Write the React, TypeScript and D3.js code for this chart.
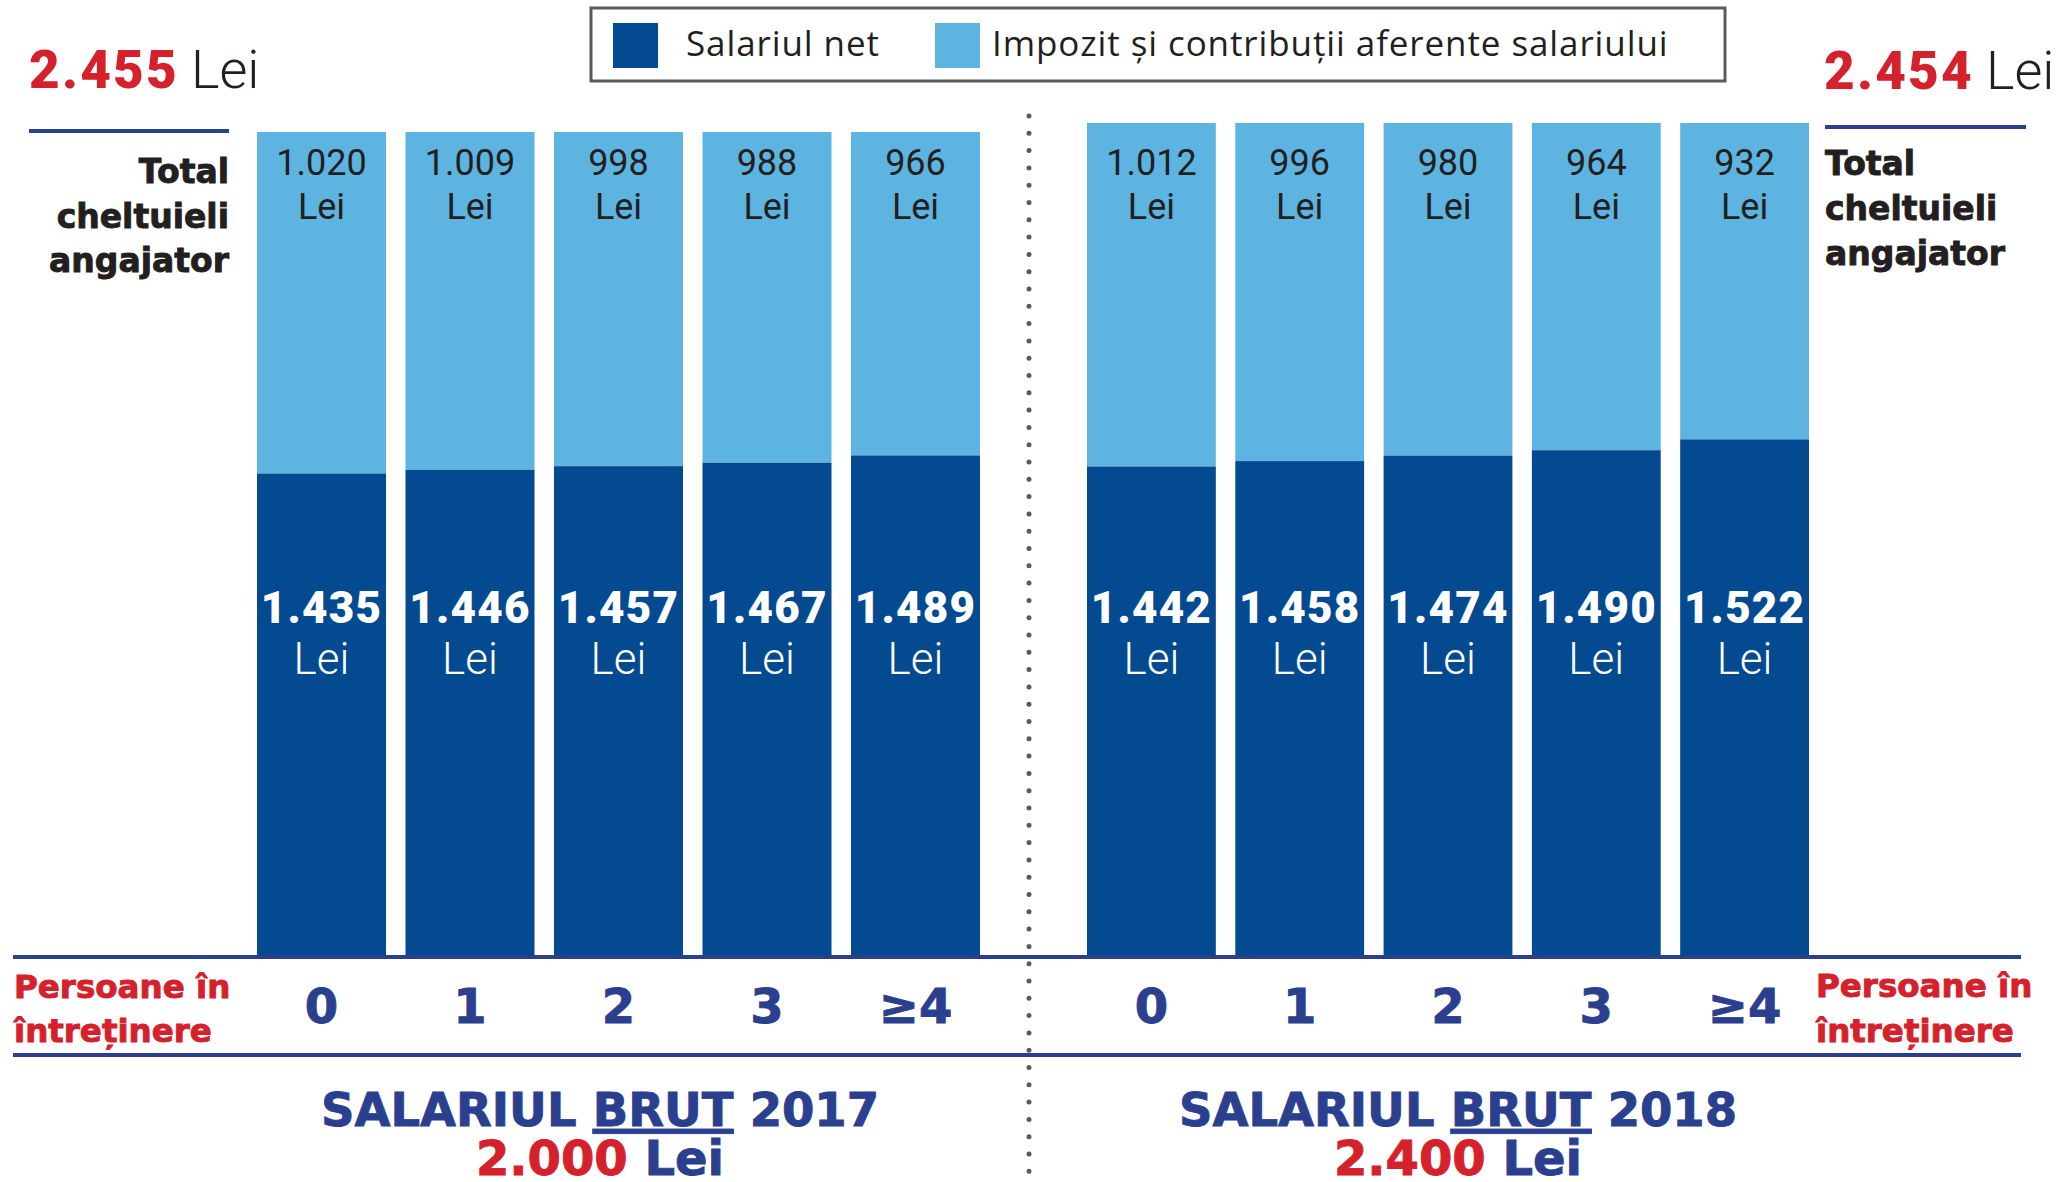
import React from "react";
import * as d3 from "d3";

const categories = ["0", "1", "2", "3", "≥4"];
const net2017 = [1435, 1446, 1457, 1467, 1489];
const tax2017 = [1020, 1009, 998, 988, 966];
const net2018 = [1442, 1458, 1474, 1490, 1522];
const tax2018 = [1012, 996, 980, 964, 932];
const totals = [2455, 2454];
const gross = ["2.000", "2.400"];
const years = ["2017", "2018"];

const DARK = "#034A91";
const LIGHT = "#5EB4E0";
const RED = "#D4212C";
const NAVY = "#2B3F8F";
const INK = "#231F20";
const SANS = "Roboto, 'Noto Sans', sans-serif";
const LEG = "'Open Sans', Roboto, sans-serif";
const HEAVY = "'DejaVu Sans', 'Noto Sans', sans-serif";

const fmt = (v: number) => d3.format(",")(v).replace(/,/g, ".");

type Panel = {
  net: number[];
  tax: number[];
  x: d3.ScaleBand<string>;
  y: d3.ScaleLinear<number, number>;
  center: number;
  year: string;
  gross: string;
};

export default function App() {
  const W = 2064;
  const H = 1182;
  const baseY = 957;

  const panels: Panel[] = [
    {
      net: net2017,
      tax: tax2017,
      x: d3.scaleBand<string>().domain(categories).range([257, 980]).paddingInner(0.1313).paddingOuter(0),
      y: d3.scaleLinear().domain([0, totals[0]]).range([954, 132]),
      center: 600,
      year: years[0],
      gross: gross[0],
    },
    {
      net: net2018,
      tax: tax2018,
      x: d3.scaleBand<string>().domain(categories).range([1087, 1809]).paddingInner(0.1313).paddingOuter(0),
      y: d3.scaleLinear().domain([0, totals[1]]).range([956, 123]),
      center: 1458,
      year: years[1],
      gross: gross[1],
    },
  ];

  const heavyStroke = (c: string) => ({ stroke: c, strokeWidth: 0.9, paintOrder: "stroke" as any });

  return (
    <svg
      width={W}
      height={H}
      viewBox={`0 0 ${W} ${H}`}
      style={{ position: "absolute", left: 0, top: 0, display: "block", background: "#fff" }}
    >
      <rect x={0} y={0} width={W} height={H} fill="#fff" />

      {/* Legend */}
      <rect x={591} y={8} width={1134} height={73} fill="#fff" stroke="#5a5a5a" strokeWidth={3} />
      <rect x={613} y={23} width={45} height={45} fill={DARK} />
      <text x={686} y={56} fontFamily={LEG} fontSize={35} letterSpacing={0.9} fill={INK}>Salariul net</text>
      <rect x={935} y={23} width={45} height={45} fill={LIGHT} />
      <text x={992} y={56} fontFamily={LEG} fontSize={35} letterSpacing={0.9} fill={INK}>Impozit și contribuții aferente salariului</text>

      {/* Totals top-left / top-right */}
      <text x={29} y={88} fontFamily={SANS} fontSize={53} fill={RED}>
        <tspan fontWeight={900} letterSpacing={2.2}>{fmt(totals[0])}</tspan>
        <tspan dx={12} fontWeight={300} fontSize={54} fill={INK}>Lei</tspan>
      </text>
      <text x={1824} y={89} fontFamily={SANS} fontSize={53} fill={RED}>
        <tspan fontWeight={900} letterSpacing={2.2}>{fmt(totals[1])}</tspan>
        <tspan dx={12} fontWeight={300} fontSize={54} fill={INK}>Lei</tspan>
      </text>
      <line x1={29} x2={229} y1={131} y2={131} stroke={NAVY} strokeWidth={4} />
      <line x1={1825} x2={2026} y1={127} y2={127} stroke={NAVY} strokeWidth={4} />

      {/* Total cheltuieli angajator */}
      {["Total", "cheltuieli", "angajator"].map((t, i) => (
        <text key={"l" + i} x={229} y={183 + i * 44.5} textAnchor="end" fontFamily={HEAVY} fontWeight={700} fontSize={33} fill={INK} {...heavyStroke(INK)}>
          {t}
        </text>
      ))}
      {["Total", "cheltuieli", "angajator"].map((t, i) => (
        <text key={"r" + i} x={1825} y={175 + i * 45} textAnchor="start" fontFamily={HEAVY} fontWeight={700} fontSize={33} fill={INK} {...heavyStroke(INK)}>
          {t}
        </text>
      ))}

      {/* Bars */}
      {panels.map((p, pi) => (
        <g key={"p" + pi}>
          {categories.map((c, i) => {
            const x0 = p.x(c) as number;
            const bw = p.x.bandwidth();
            const cx = x0 + bw / 2;
            const yNet = p.y(p.net[i]);
            const yTot = p.y(p.net[i] + p.tax[i]);
            const y0 = p.y(0);
            return (
              <g key={c}>
                <rect x={x0} y={yTot} width={bw} height={yNet - yTot} fill={LIGHT} />
                <rect x={x0} y={yNet} width={bw} height={Math.max(y0, baseY) - yNet} fill={DARK} />
                <text x={cx} y={175} textAnchor="middle" fontFamily={SANS} fontSize={36} fill={INK}>
                  {fmt(p.tax[i])}
                </text>
                <text x={cx} y={219} textAnchor="middle" fontFamily={SANS} fontSize={36} fill={INK}>
                  Lei
                </text>
                <text x={cx} y={623} textAnchor="middle" fontFamily={SANS} fontWeight={900} fontSize={44} letterSpacing={1.2} fill="#fff">
                  {fmt(p.net[i])}
                </text>
                <text x={cx} y={674} textAnchor="middle" fontFamily={SANS} fontWeight={300} fontSize={44} fill="#fff">
                  Lei
                </text>
                <text x={cx} y={1023} textAnchor="middle" fontFamily={HEAVY} fontWeight={700} fontSize={48} fill={NAVY} {...heavyStroke(NAVY)}>
                  {c}
                </text>
              </g>
            );
          })}
          <text x={p.center} y={1126} textAnchor="middle" fontFamily={HEAVY} fontWeight={700} fontSize={46.5} fill={NAVY} {...heavyStroke(NAVY)}>
            <tspan>SALARIUL </tspan>
            <tspan style={{ textDecoration: "underline" }}>BRUT</tspan>
            <tspan> {p.year}</tspan>
          </text>
          <text x={p.center} y={1175} textAnchor="middle" fontFamily={HEAVY} fontWeight={700} fontSize={48} fill={NAVY} {...heavyStroke(NAVY)}>
            <tspan fill={RED} stroke={RED}>{p.gross}</tspan>
            <tspan> Lei</tspan>
          </text>
        </g>
      ))}

      {/* Horizontal rules */}
      <line x1={13} x2={2021} y1={baseY} y2={baseY} stroke={NAVY} strokeWidth={4} />
      <line x1={13} x2={2021} y1={1055} y2={1055} stroke={NAVY} strokeWidth={4} />

      {/* Persoane în întreținere */}
      {[
        { x: 14, y1: 998, y2: 1042 },
        { x: 1816, y1: 997, y2: 1042 },
      ].map((d, i) => (
        <g key={"pers" + i}>
          <text x={d.x} y={d.y1} fontFamily={HEAVY} fontWeight={700} fontSize={32.5} fill={RED} {...heavyStroke(RED)}>Persoane în</text>
          <text x={d.x} y={d.y2} fontFamily={HEAVY} fontWeight={700} fontSize={32.5} fill={RED} {...heavyStroke(RED)}>întreținere</text>
        </g>
      ))}

      {/* Dotted separator */}
      <line x1={1029} x2={1029} y1={116} y2={1182} stroke="#5a5a5a" strokeWidth={5} strokeLinecap="round" strokeDasharray="0 17.3" />
    </svg>
  );
}
